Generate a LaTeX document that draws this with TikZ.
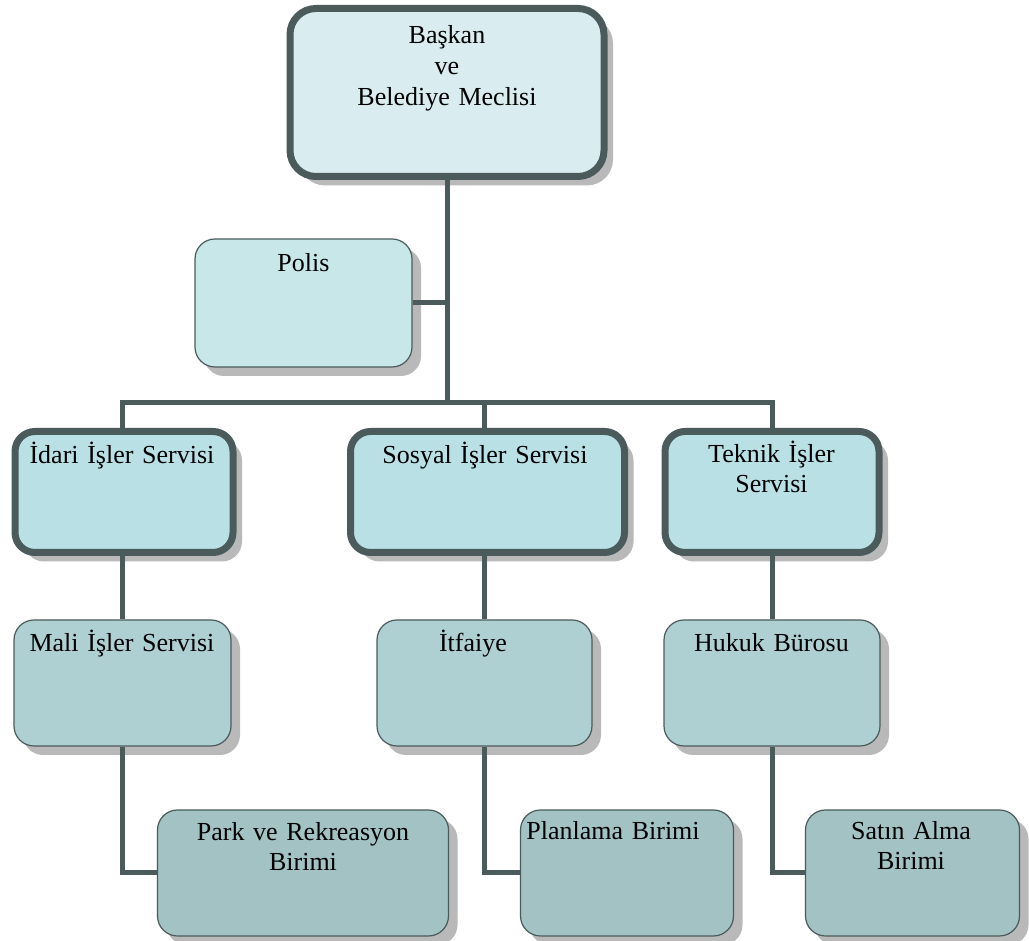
\documentclass[tikz,border=0pt]{standalone}
\usepackage{fontspec}
\setmainfont{Liberation Serif}
\usetikzlibrary{positioning,shadows}
\definecolor{rim}{RGB}{75,90,90}
\definecolor{lev0}{RGB}{217,237,240}
\definecolor{lev1}{RGB}{200,231,233}
\definecolor{lev2}{RGB}{185,225,229}
\definecolor{lev3}{RGB}{174,208,211}
\definecolor{lev4}{RGB}{163,194,196}

\begin{document}
\begin{tikzpicture}[x=1pt,y=1pt]
\tikzstyle{box}=[rectangle,rounded corners=20pt,draw=rim,line width=1.2pt,inner sep=0pt,minimum height=126pt,
  drop shadow={shadow xshift=9pt,shadow yshift=-9pt,fill=gray!55,opacity=1}]
\tikzstyle{heavy}=[box,line width=7pt,minimum height=121pt]
\tikzstyle{caption}=[anchor=base,inner sep=0pt,text width=280pt,align=center,font=\fontsize{26}{30}\selectfont]
\tikzstyle{link}=[draw=rim,line width=5pt]
\useasboundingbox (0,0) rectangle (1029,941);
% boxes
\node [heavy,fill=lev0,minimum width=314pt,minimum height=168pt,rounded corners=26pt] (0) at(447,848.5) {};
\node [box,fill=lev1,minimum width=217pt,minimum height=128pt] (1) at(303.5,638) {};
\node [heavy,fill=lev2,minimum width=218pt] (2) at(124,449) {};
\node [heavy,fill=lev2,minimum width=274pt] (3) at(487.5,449) {};
\node [heavy,fill=lev2,minimum width=214pt] (4) at(772,449) {};
\node [box,fill=lev3,minimum width=217pt] (5) at(122.5,258) {};
\node [box,fill=lev3,minimum width=215pt] (6) at(484.5,258) {};
\node [box,fill=lev3,minimum width=216pt] (7) at(772,258) {};
\node [box,fill=lev4,minimum width=291pt] (8) at(303,68) {};
\node [box,fill=lev4,minimum width=213pt] (9) at(627,68) {};
\node [box,fill=lev4,minimum width=214pt] (10) at(912.5,68) {};
% texts
\node [caption,font=\fontsize{26}{31}\selectfont] (t0) at(447,897) {Başkan\\ve\\Belediye Meclisi};
\node [caption] (t1) at(303.5,669) {Polis};
\node [caption] (t2) at(122,477) {İdari İşler Servisi};
\node [caption] (t3) at(485,477) {Sosyal İşler Servisi};
\node [caption] (t4) at(771.5,478) {Teknik İşler\\Servisi};
\node [caption] (t5) at(122,289) {Mali İşler Servisi};
\node [caption] (t6) at(473,289) {İtfaiye};
\node [caption] (t7) at(771.5,289) {Hukuk Bürosu};
\node [caption] (t8) at(303,100) {Park ve Rekreasyon\\Birimi};
\node [caption] (t9) at(613,101) {Planlama Birimi};
\node [caption] (t10) at(911,101) {Satın Alma\\Birimi};
% connectors
\coordinate (bus) at(447,538);
\draw [link] (0.south) -- (bus);
\draw [link] (1.east) -- (1.east -| bus);
\draw [link] (bus) -| (2.north -| 5.north);
\draw [link] (bus) -| (3.north -| 6.north);
\draw [link] (bus) -| (4.north -| 7.north);
\draw [link] (5.north |- 2.south) -- (5.north);
\draw [link] (6.north |- 3.south) -- (6.north);
\draw [link] (7.north |- 4.south) -- (7.north);
\draw [link] (5.south) |- (8.west);
\draw [link] (6.south) |- (9.west);
\draw [link] (7.south) |- (10.west);
\end{tikzpicture}
\end{document}
